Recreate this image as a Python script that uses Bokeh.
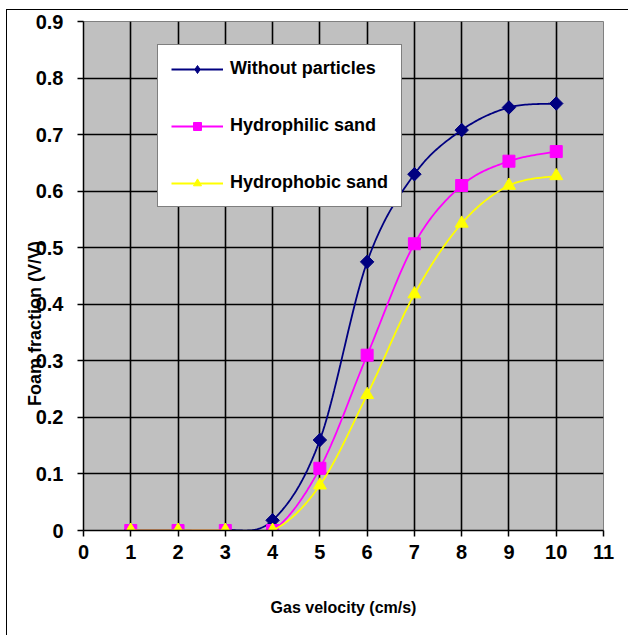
import numpy as np
from bokeh.plotting import figure
from bokeh.layouts import column
from bokeh.models import Legend, LegendItem
from bokeh.embed import file_html
from bokeh.resources import INLINE

# ---- data ----
gas_velocity = [1, 2, 3, 4, 5, 6, 7, 8, 9, 10]
without_particles = [0, 0, 0, 0.018, 0.160, 0.475, 0.630, 0.708, 0.748, 0.755]
hydrophilic_sand = [0, 0, 0, 0, 0.110, 0.310, 0.507, 0.610, 0.653, 0.670]
hydrophobic_sand = [0, 0, 0, 0, 0.080, 0.240, 0.418, 0.543, 0.610, 0.627]
x_ticks = [0, 1, 2, 3, 4, 5, 6, 7, 8, 9, 10, 11]
y_ticks = [0.0, 0.1, 0.2, 0.3, 0.4, 0.5, 0.6, 0.7, 0.8, 0.9]
series_names = ["Without particles", "Hydrophilic sand", "Hydrophobic sand"]


def smooth(xs, ys, n=30):
    """Excel-like smoothed line (cubic Bezier through points, tension 1/6)."""
    P = np.column_stack([xs, ys]).astype(float)
    out = []
    m = len(P)
    for i in range(m - 1):
        p0 = P[i - 1] if i > 0 else P[i]
        p1, p2 = P[i], P[i + 1]
        p3 = P[i + 2] if i + 2 < m else P[i + 1]
        c1 = p1 + (p2 - p0) / 6.0
        c2 = p2 - (p3 - p1) / 6.0
        t = np.linspace(0, 1, n, endpoint=(i == m - 2))[:, None]
        b = ((1 - t) ** 3) * p1 + 3 * ((1 - t) ** 2) * t * c1 + 3 * (1 - t) * t ** 2 * c2 + t ** 3 * p2
        out.append(b)
    B = np.vstack(out)
    return B[:, 0], B[:, 1]


FONT = "Liberation Sans"

p = figure(width=621, height=625, x_range=(0, 11), y_range=(0, 0.9),
           output_backend="svg", toolbar_location=None,
           min_border_left=76, min_border_right=25, min_border_top=11, min_border_bottom=105)

p.background_fill_color = "#C0C0C0"
p.border_fill_color = "white"
p.outline_line_color = "#808080"
p.outline_line_width = 1

# axes
p.xaxis.ticker = x_ticks
p.yaxis.ticker = y_ticks
p.yaxis.major_label_overrides = {0: "0"}
for ax in (p.xaxis[0], p.yaxis[0]):
    ax.axis_line_color = "black"
    ax.axis_line_width = 1.5
    ax.major_tick_line_color = "black"
    ax.major_tick_line_width = 1.5
    ax.major_tick_out = 6
    ax.major_tick_in = 0
    ax.minor_tick_line_color = None
    ax.major_label_text_font = FONT
    ax.major_label_text_font_style = "bold"
    ax.major_label_text_font_size = "20px"
    ax.major_label_text_color = "black"
    ax.axis_label_text_font = FONT
    ax.axis_label_text_font_style = "bold"
    ax.axis_label_text_color = "black"
p.yaxis.major_label_standoff = 14
p.xaxis.major_label_standoff = 8

p.xaxis.axis_label = "Gas velocity (cm/s)"
p.xaxis.axis_label_text_font_size = "16px"
p.xaxis.axis_label_standoff = 37

# y label: overlaps the tick labels and sits below the frame centre, as in the original
p.yaxis.axis_label = "Foam fraction (V/V)" + "\u00a0" * 19
p.yaxis.axis_label_text_font_size = "18px"
p.yaxis.axis_label_standoff = -12

p.xgrid.grid_line_color = "black"
p.ygrid.grid_line_color = "black"
p.xgrid.grid_line_width = 1.6
p.ygrid.grid_line_width = 1.6
p.xgrid.grid_line_alpha = 1
p.ygrid.grid_line_alpha = 1

colors = ["#000080", "#FF00FF", "#FFFF00"]
markers = ["square", "square", "triangle"]
angles = [np.pi / 4, 0, 0]
sizes = [9.5, 12, 13]
data = [without_particles, hydrophilic_sand, hydrophobic_sand]

items = []
for i, (name, ys, c, mk, ang, sz) in enumerate(zip(series_names, data, colors, markers, angles, sizes)):
    sx, sy = smooth(gas_velocity, ys)
    lr = p.line(sx, sy, line_color=c, line_width=1.8)
    if i == 0:
        # plain diamond under the rotated square: used as the legend swatch
        sw = p.scatter(gas_velocity, ys, marker="diamond", size=13, fill_color=c, line_color=c)
        p.scatter(gas_velocity, ys, marker=mk, size=sz, angle=ang, fill_color=c, line_color=c)
    else:
        sw = p.scatter(gas_velocity, ys, marker=mk, size=sz, angle=ang, fill_color=c, line_color=c)
    items.append(LegendItem(label=name, renderers=[lr, sw]))

legend = Legend(items=items, location=(74, 323))
legend.background_fill_color = "white"
legend.background_fill_alpha = 1
legend.border_line_color = "black"
legend.border_line_width = 1
legend.padding = 13
legend.spacing = 36
legend.margin = 0
legend.glyph_height = 20
legend.label_height = 20
legend.glyph_width = 52
legend.label_standoff = 7
legend.label_text_font = FONT
legend.label_text_font_style = "bold"
legend.label_text_font_size = "18px"
legend.label_text_color = "black"
p.add_layout(legend)

layout = column(p, styles={"margin-left": "6px", "margin-top": "9px",
                           "border-left": "1px solid black", "border-top": "1px solid black"})

open("out.html", "w").write(file_html(layout, INLINE))
